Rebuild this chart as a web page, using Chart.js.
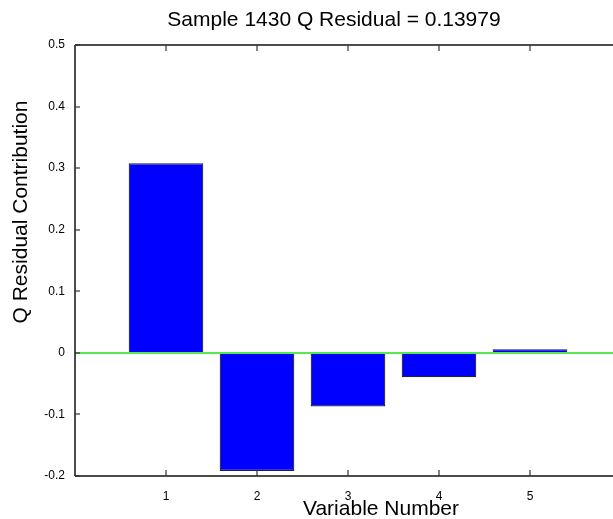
<!DOCTYPE html>
<html lang="en">
<head>
    <meta charset="UTF-8">
    <title>Q Residual Contribution</title>
    <script src="https://cdn.jsdelivr.net/npm/chart.js@4.4.0/dist/chart.umd.min.js"></script>
    <style>
        html, body { margin: 0; padding: 0; background: #fff; overflow: hidden; }
        #wrap { width: 613px; height: 519px; overflow: hidden; }
    </style>
</head>
<body>
    <div id="wrap">
        <canvas id="qChart" width="640" height="519"></canvas>
    </div>
    <script>
        // data
        const varNumbers = [1, 2, 3, 4, 5];
        const contributions = [0.308, -0.192, -0.087, -0.0395, 0.006];
        const xTickLabels = ['1', '2', '3', '4', '5'];
        const yTickValues = [-0.2, -0.1, 0, 0.1, 0.2, 0.3, 0.4, 0.5];
        const yTickLabels = ['-0.2', '-0.1', '0', '0.1', '0.2', '0.3', '0.4', '0.5'];

        const titleText = 'Sample 1430 Q Residual = 0.13979';
        const xTitle = 'Variable Number';
        const yTitle = 'Q Residual Contribution';
        const FONT = "'Liberation Sans', Arial, sans-serif";

        function line(ctx, x1, y1, x2, y2) {
            ctx.beginPath();
            ctx.moveTo(x1, y1);
            ctx.lineTo(x2, y2);
            ctx.stroke();
        }

        // matlab-ish frame: box, inward ticks, green zero line, titles
        const matlabAxes = {
            id: 'matlabAxes',
            afterDraw(chart) {
                const { ctx, chartArea: a, scales: { x, y } } = chart;
                ctx.save();
                const L = Math.round(a.left), R = Math.round(a.right);
                const T = Math.round(a.top), B = Math.round(a.bottom);

                ctx.lineWidth = 2;
                ctx.strokeStyle = '#55e855';
                const y0 = Math.round(y.getPixelForValue(0));
                line(ctx, L, y0, R, y0);

                ctx.lineWidth = 1.5;
                ctx.strokeStyle = '#111';
                line(ctx, L, T, R, T);
                line(ctx, L, B, R, B);
                line(ctx, L, T, L, B);
                line(ctx, R, T, R, B);

                ctx.lineWidth = 1.2;
                ctx.strokeStyle = '#333';
                for (const v of varNumbers) {
                    const px = Math.round(x.getPixelForValue(v));
                    line(ctx, px, B, px, B - 6);
                    line(ctx, px, T, px, T + 6);
                }
                for (const v of yTickValues) {
                    const py = Math.round(y.getPixelForValue(v));
                    line(ctx, L, py, L + 5, py);
                    line(ctx, R, py, R - 5, py);
                }

                ctx.fillStyle = '#000';
                ctx.font = '21px ' + FONT;
                ctx.textAlign = 'center';
                ctx.textBaseline = 'alphabetic';
                ctx.fillText(titleText, 334, 26);
                ctx.fillText(xTitle, 381, 515);
                ctx.translate(27, 212);
                ctx.rotate(-Math.PI / 2);
                ctx.fillText(yTitle, 0, 0);
                ctx.restore();
            }
        };

        new Chart(document.getElementById('qChart'), {
            type: 'bar',
            data: {
                datasets: [{
                    data: varNumbers.map((v, i) => ({ x: v, y: contributions[i] })),
                    backgroundColor: '#0000ff',
                    borderColor: '#222233',
                    borderWidth: 1.2,
                    categoryPercentage: 0.82,
                    barPercentage: 1
                }]
            },
            options: {
                responsive: false,
                animation: false,
                layout: { padding: { left: 0, right: 19, top: 45, bottom: 0 } },
                plugins: {
                    legend: { display: false },
                    tooltip: { enabled: false },
                    title: { display: false }
                },
                scales: {
                    x: {
                        type: 'linear',
                        offset: false,
                        min: 0,
                        max: 6,
                        grid: { display: false },
                        border: { display: false },
                        afterBuildTicks: s => { s.ticks = varNumbers.map(v => ({ value: v })); },
                        afterFit: s => { s.height = 43; },
                        ticks: {
                            color: '#000',
                            padding: 5,
                            maxRotation: 0,
                            font: { family: FONT, size: 12 },
                            callback: (v, i) => xTickLabels[i]
                        }
                    },
                    y: {
                        min: -0.2,
                        max: 0.5,
                        grid: { display: false },
                        border: { display: false },
                        afterBuildTicks: s => { s.ticks = yTickValues.map(v => ({ value: v })); },
                        afterFit: s => { s.width = 75; },
                        ticks: {
                            color: '#000',
                            padding: 2,
                            font: { family: FONT, size: 12 },
                            callback: (v, i) => yTickLabels[i]
                        }
                    }
                }
            },
            plugins: [matlabAxes]
        });
    </script>
</body>
</html>
